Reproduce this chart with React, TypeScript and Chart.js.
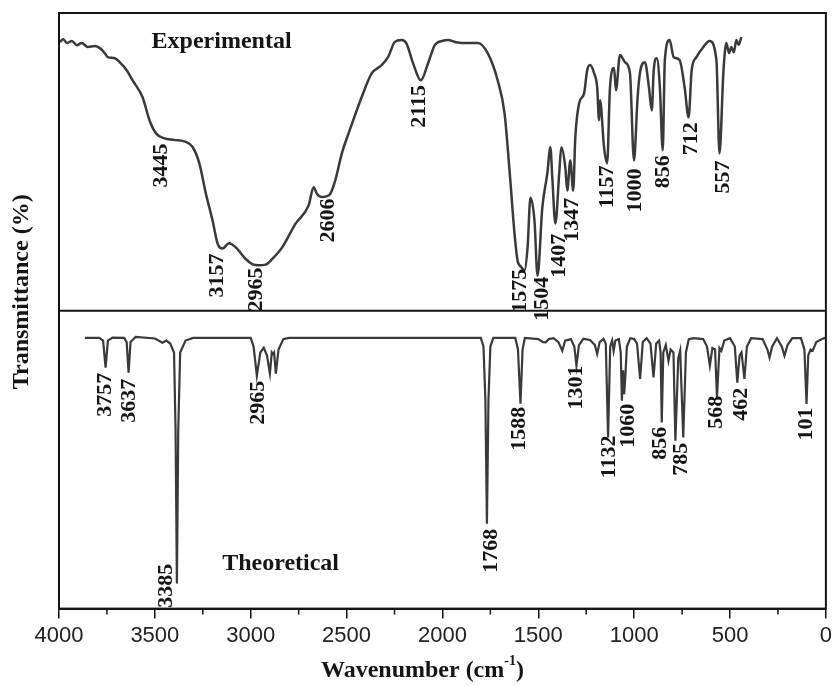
import React, { useEffect, useRef } from 'react';
import { Chart, registerables } from 'chart.js';

Chart.register(...registerables);

// Experimental spectrum (wavenumber cm-1, transmittance %)
const expWavenumber = [
  3995, 3979, 3958, 3933, 3907, 3881, 3850, 3813, 3787, 3761, 3746, 3709, 3684, 3647, 3616, 3564,
  3528, 3493, 3450, 3400, 3338, 3303, 3268, 3234, 3199, 3173, 3147, 3113, 3078, 3026, 2992, 2960,
  2922, 2888, 2836, 2767, 2698, 2672, 2655, 2629, 2606, 2585, 2559, 2525, 2490, 2421, 2369, 2317,
  2283, 2248, 2214, 2188, 2153, 2113, 2075, 2040, 1997, 1971, 1930, 1868, 1816, 1764, 1712, 1676,
  1650, 1624, 1608, 1590, 1572, 1556, 1541, 1520, 1504, 1479, 1453, 1437, 1427, 1411, 1390, 1380,
  1359, 1349, 1333, 1318, 1307, 1287, 1261, 1245, 1230, 1209, 1193, 1183, 1178, 1157, 1141, 1126,
  1105, 1095, 1074, 1048, 1022, 1001, 982, 970, 944, 923, 908, 898, 882, 866, 851, 840,
  815, 794, 763, 737, 716, 700, 675, 640, 607, 571, 555, 534, 519, 505, 493, 480,
  467, 455, 441,
];
const expTransmittance = [
  90.2, 91.2, 89.9, 90.6, 89.2, 89.9, 88.6, 88.9, 88.2, 86.5, 85.2, 84.8, 83.5, 80.8, 77.4, 71.7,
  64.0, 59.5, 57.9, 57.4, 56.7, 55.0, 49.5, 39.4, 30.3, 22.6, 20.9, 22.7, 21.3, 17.4, 15.7, 15.3,
  15.5, 17.4, 21.3, 29.2, 35.4, 41.5, 39.3, 38.2, 38.4, 39.3, 43.8, 52.8, 59.5, 71.8, 79.7, 82.5,
  85.3, 90.3, 90.9, 89.8, 83.1, 77.4, 83.1, 89.2, 90.7, 90.9, 90.2, 89.9, 89.9, 86.5, 77.4, 66.3,
  47.1, 25.9, 16.8, 14.8, 13.5, 21.2, 38.0, 30.3, 11.8, 34.7, 46.1, 54.9, 44.8, 29.3, 47.1, 54.9,
  48.1, 40.4, 50.5, 40.4, 58.2, 69.7, 73.1, 80.8, 82.5, 79.8, 75.1, 64.0, 70.7, 54.9, 49.5, 75.1,
  81.5, 74.1, 85.9, 83.5, 79.8, 50.5, 71.7, 79.8, 83.5, 75.1, 67.3, 80.8, 84.8, 75.1, 53.9, 84.2,
  90.9, 85.2, 84.2, 75.1, 65.0, 80.8, 85.2, 88.5, 90.6, 84.2, 52.9, 80.8, 89.9, 86.5, 88.6, 86.8,
  90.9, 89.3, 91.9,
];

// Theoretical spectrum (wavenumber cm-1, transmittance %)
const theoWavenumber = [
  3865, 3790, 3770, 3757, 3745, 3720, 3660, 3647, 3637, 3627, 3600, 3500, 3460, 3440, 3420, 3400,
  3392, 3385, 3378, 3368, 3340, 3300, 3000, 2985, 2968, 2950, 2932, 2915, 2900, 2890, 2884, 2878,
  2869, 2855, 2830, 2800, 1800, 1786, 1776, 1768, 1760, 1750, 1735, 1620, 1606, 1593, 1582, 1570,
  1500, 1475, 1461, 1445, 1420, 1395, 1375, 1360, 1330, 1312, 1301, 1288, 1265, 1230, 1205, 1193,
  1180, 1160, 1148, 1136, 1125, 1115, 1107, 1098, 1080, 1070, 1064, 1058, 1052, 1046, 1038, 1020,
  1000, 985, 969, 955, 935, 915, 899, 885, 870, 862, 856, 848, 835, 821, 810, 795,
  785, 770, 760, 744, 730, 715, 690, 640, 620, 605, 592, 578, 568, 555, 545, 530,
  500, 475, 462, 450, 440, 425, 412, 390, 330, 305, 294, 280, 255, 230, 216, 200,
  175, 130, 112, 101, 92, 80, 69, 50, 20, 0,
];
const theoTransmittance = [
  90.9, 90.9, 90.0, 80.9, 90.0, 91.0, 90.9, 89.5, 79.2, 89.5, 91.2, 90.7, 89.3, 90.0, 89.0, 86.0,
  60.0, 8.4, 60.0, 86.0, 90.0, 90.9, 90.9, 88.0, 78.2, 86.0, 87.6, 85.0, 78.9, 86.0, 85.5, 86.0,
  78.9, 87.0, 90.5, 90.9, 90.9, 88.0, 70.0, 28.5, 70.0, 88.0, 90.9, 90.9, 87.0, 68.8, 87.0, 90.9,
  90.5, 89.5, 89.4, 90.5, 90.8, 89.5, 86.6, 90.0, 90.5, 88.0, 81.6, 88.5, 90.6, 90.2, 88.5, 85.5,
  89.5, 90.6, 89.0, 57.5, 88.0, 90.0, 86.5, 90.0, 90.5, 86.0, 69.8, 80.0, 72.0, 78.0, 88.0, 90.8,
  90.5, 89.0, 77.1, 89.5, 90.8, 89.0, 77.6, 89.0, 90.0, 86.0, 62.5, 86.0, 88.5, 83.2, 87.0, 86.0,
  56.4, 84.0, 86.6, 57.5, 86.0, 90.5, 90.8, 90.5, 88.0, 81.6, 87.5, 87.0, 70.9, 87.5, 86.6, 90.0,
  90.8, 88.0, 75.9, 85.0, 86.0, 77.1, 88.0, 90.8, 90.5, 87.0, 84.3, 88.0, 90.8, 88.0, 84.9, 88.5,
  90.8, 90.8, 87.0, 68.7, 85.0, 87.0, 86.6, 89.5, 90.5, 91.0,
];

// Peak annotations: label, x position (cm-1), top of label (transmittance %)
const expPeakLabels = ['3445', '3157', '2965', '2606', '2115', '1575', '1504', '1407', '1347', '1157', '1000', '856', '712', '557'];
const expPeakX = [3466, 3175, 2973, 2594, 2122, 1593, 1479, 1390, 1323, 1141, 996, 846, 700, 534];
const expPeakTop = [56.2, 19.2, 14.5, 37.7, 75.8, 14.1, 11.4, 25.9, 38.0, 48.8, 47.8, 52.2, 63.3, 50.5];

const theoPeakLabels = ['3757', '3637', '3385', '2965', '1768', '1588', '1301', '1132', '1060', '856', '785', '568', '462', '101'];
const theoPeakX = [3761, 3632, 3440, 2962, 1743, 1598, 1302, 1131, 1032, 866, 752, 571, 441, 104];
const theoPeakTop = [79.2, 77.2, 15.1, 76.5, 26.8, 67.8, 81.6, 58.1, 68.8, 61.1, 55.7, 71.5, 74.2, 67.5];

const panelTitles = ['Experimental', 'Theoretical'];
const panelTitleX = [3517, 3149];
const panelTitleY = [88.2, 12.8];

const minorTicks = [3750, 3250, 2750, 2250, 1750, 1250, 750, 250];

const LINE = '#3a3a3a';
const INK = '#151515';
const SERIF = '"Liberation Serif", "Times New Roman", serif';

const textPlugin = {
  id: 'irText',
  afterDraw(chart: any) {
    const { ctx, chartArea, scales } = chart;
    const xs = scales.x;
    const yt = scales.yTop;
    const yb = scales.yBot;
    ctx.save();
    // frame and divider
    ctx.strokeStyle = INK;
    ctx.lineWidth = 2;
    ctx.strokeRect(chartArea.left, chartArea.top, chartArea.right - chartArea.left, chartArea.bottom - chartArea.top);
    ctx.beginPath();
    ctx.moveTo(chartArea.left, yb.top);
    ctx.lineTo(chartArea.right, yb.top);
    ctx.stroke();
    // minor ticks
    ctx.lineWidth = 1.5;
    for (const m of minorTicks) {
      const px = xs.getPixelForValue(m);
      ctx.beginPath();
      ctx.moveTo(px, chartArea.bottom);
      ctx.lineTo(px, chartArea.bottom + 6);
      ctx.stroke();
    }
    // peak labels
    ctx.fillStyle = INK;
    ctx.font = 'bold 22px ' + SERIF;
    ctx.textAlign = 'right';
    ctx.textBaseline = 'middle';
    const drawRot = (t: string, px: number, py: number) => {
      ctx.save();
      ctx.translate(px, py);
      ctx.rotate(-Math.PI / 2);
      ctx.fillText(t, 0, 0);
      ctx.restore();
    };
    expPeakLabels.forEach((t, i) => drawRot(t, xs.getPixelForValue(expPeakX[i]), yt.getPixelForValue(expPeakTop[i])));
    theoPeakLabels.forEach((t, i) => drawRot(t, xs.getPixelForValue(theoPeakX[i]), yb.getPixelForValue(theoPeakTop[i])));
    // panel titles
    ctx.font = 'bold 24px ' + SERIF;
    ctx.textAlign = 'left';
    ctx.textBaseline = 'alphabetic';
    ctx.fillText(panelTitles[0], xs.getPixelForValue(panelTitleX[0]), yt.getPixelForValue(panelTitleY[0]));
    ctx.fillText(panelTitles[1], xs.getPixelForValue(panelTitleX[1]), yb.getPixelForValue(panelTitleY[1]));
    // y axis title
    ctx.save();
    ctx.translate(28, (chartArea.top + chartArea.bottom) / 2 - 19);
    ctx.rotate(-Math.PI / 2);
    ctx.textAlign = 'center';
    ctx.fillText('Transmittance (%)', 0, 0);
    ctx.restore();
    // x axis title with superscript
    const main = 'Wavenumber (cm';
    const sup = '-1';
    const close = ')';
    ctx.font = 'bold 24px ' + SERIF;
    const w1 = ctx.measureText(main).width;
    const w3 = ctx.measureText(close).width;
    ctx.font = 'bold 14px ' + SERIF;
    const w2 = ctx.measureText(sup).width;
    const total = w1 + w2 + w3;
    const cx = (chartArea.left + chartArea.right) / 2 - 20;
    let sx = cx - total / 2;
    const base = 677;
    ctx.font = 'bold 24px ' + SERIF;
    ctx.fillText(main, sx, base);
    sx += w1;
    ctx.font = 'bold 14px ' + SERIF;
    ctx.fillText(sup, sx, base - 12);
    sx += w2;
    ctx.font = 'bold 24px ' + SERIF;
    ctx.fillText(close, sx, base);
    ctx.restore();
  },
};

export default function App() {
  const ref = useRef<HTMLCanvasElement | null>(null);
  useEffect(() => {
    if (!ref.current) return;
    const chart = new Chart(ref.current, {
      type: 'line',
      data: {
        datasets: [
          {
            label: 'Experimental',
            data: expWavenumber.map((w, i) => ({ x: w, y: expTransmittance[i] })),
            yAxisID: 'yTop',
            borderColor: LINE,
            borderWidth: 2.5,
            pointRadius: 0,
            cubicInterpolationMode: 'monotone',
            fill: false,
          },
          {
            label: 'Theoretical',
            data: theoWavenumber.map((w, i) => ({ x: w, y: theoTransmittance[i] })),
            yAxisID: 'yBot',
            borderColor: LINE,
            borderWidth: 2.2,
            pointRadius: 0,
            tension: 0,
            fill: false,
          },
        ],
      },
      options: {
        animation: false,
        responsive: false,
        layout: { padding: { left: 51, top: 13, right: 5, bottom: 33 } },
        plugins: { legend: { display: false }, tooltip: { enabled: false }, title: { display: false } },
        scales: {
          x: {
            type: 'linear',
            reverse: true,
            min: 0,
            max: 4000,
            ticks: {
              stepSize: 500,
              color: '#222',
              padding: 4,
              font: { family: '"Liberation Sans", Arial, sans-serif', size: 22 },
              maxRotation: 0,
              callback: (v: any) => String(v),
            },
            grid: { display: true, drawOnChartArea: false, drawTicks: true, tickLength: 10, color: INK, lineWidth: 1.5 },
            border: { display: true, color: INK, width: 2 },
          },
          yBot: {
            type: 'linear',
            position: 'left',
            stack: 'ir',
            stackWeight: 1,
            min: 0,
            max: 100,
            ticks: { display: false },
            grid: { display: false },
            border: { display: false },
          },
          yTop: {
            type: 'linear',
            position: 'left',
            stack: 'ir',
            stackWeight: 1,
            min: 0,
            max: 100,
            ticks: { display: false },
            grid: { display: false },
            border: { display: false },
          },
        },
      },
      plugins: [textPlugin],
    });
    return () => chart.destroy();
  }, []);
  return (
    <div style={{ position: 'fixed', left: 0, top: 0, width: 836, height: 686, background: '#fff' }}>
      <canvas ref={ref} width={836} height={686} style={{ display: 'block', width: 836, height: 686 }} />
    </div>
  );
}
